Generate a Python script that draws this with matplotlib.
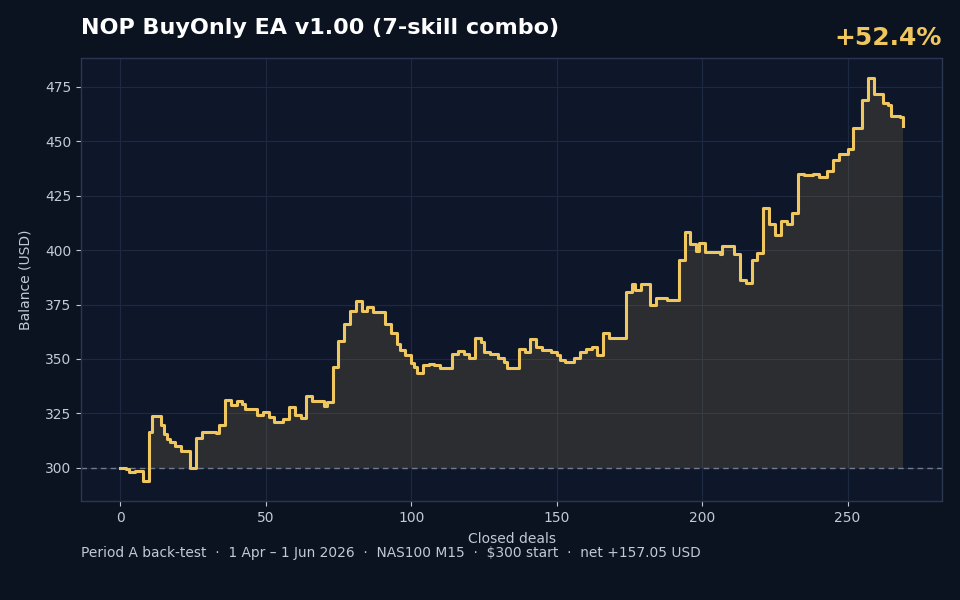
import numpy as np
import matplotlib
matplotlib.use("Agg")
import matplotlib.pyplot as plt

# Change points: deal index where balance takes a new value
deals = [0, 2, 3, 5, 8, 10, 11, 14, 15, 16, 17, 19, 21, 24, 26, 28, 33, 34, 36, 38,
         40, 42, 43, 47, 49, 51, 53, 56, 58, 60, 62, 64, 66, 70, 71, 73, 75, 77, 79, 81,
         83, 85, 87, 91, 93, 95, 96, 98, 100, 101, 102, 104, 106, 108, 110, 114, 116, 118, 120, 122,
         124, 125, 127, 130, 132, 133, 137, 139, 141, 143, 145, 148, 150, 151, 153, 156, 158, 160, 162, 164,
         166, 168, 174, 176, 177, 179, 182, 184, 188, 192, 194, 196, 198, 199, 201, 206, 207, 211, 213, 215,
         217, 219, 221, 223, 225, 227, 229, 231, 233, 235, 238, 240, 243, 245, 247, 250, 252, 255, 257, 259,
         262, 264, 265, 268, 269]
balance = [300.0, 299.3, 298.2, 298.7, 294.0, 316.3, 323.6, 319.7, 315.3, 313.2, 311.7, 310.1, 307.8, 299.7, 313.5, 316.3, 315.8, 319.8, 331.2, 328.9,
           330.9, 329.3, 327.0, 324.3, 325.5, 323.2, 320.9, 322.4, 327.8, 324.4, 322.9, 333.2, 330.9, 328.6, 330.1, 346.5, 358.2, 366.2, 372.0, 376.6,
           372.0, 373.8, 371.5, 366.2, 361.9, 357.0, 353.9, 351.6, 348.3, 346.2, 343.4, 347.0, 347.8, 347.0, 345.7, 352.4, 353.6, 352.4, 350.5, 359.7,
           357.7, 353.1, 352.4, 350.5, 348.5, 345.7, 354.7, 353.1, 359.3, 355.4, 354.2, 353.4, 352.0, 349.3, 348.5, 350.5, 353.4, 354.7, 355.4, 351.6,
           361.9, 359.7, 380.8, 384.6, 381.5, 384.6, 374.6, 378.2, 377.2, 395.3, 408.4, 403.0, 399.5, 403.3, 399.2, 398.0, 401.8, 398.0, 386.5, 384.9,
           395.3, 398.7, 419.2, 412.2, 406.9, 413.5, 411.9, 417.1, 435.0, 434.5, 435.0, 433.7, 436.5, 441.4, 444.0, 446.3, 456.3, 469.0, 479.0, 471.8,
           467.8, 466.7, 461.7, 461.1, 457.05]

start_balance = 300.0
x_ticks = [0, 50, 100, 150, 200, 250]
y_ticks = [300, 325, 350, 375, 400, 425, 450, 475]

title = "NOP BuyOnly EA v1.00 (7-skill combo)"
gain_label = "+52.4%"
footer = ("Period A back-test  \u00b7  1 Apr \u2013 1 Jun 2026  \u00b7  NAS100 M15  \u00b7  "
          "$300 start  \u00b7  net +157.05 USD")

FIG_BG = "#0b1220"
AX_BG = "#0e172a"
GOLD = "#f0c75e"
GRID = "#1c2940"
SPINE = "#2a3750"
TXT = "#c3cad6"

fig = plt.figure(figsize=(9.6, 6.0), dpi=100, facecolor=FIG_BG)
ax = fig.add_axes([0.0844, 0.165, 0.8969, 0.7383])
ax.set_facecolor(AX_BG)

x = np.array(deals, dtype=float)
y = np.array(balance)

ax.fill_between(x, np.maximum(y, start_balance), start_balance, step="post",
                color=GOLD, alpha=0.13, linewidth=0)
ax.plot(x, y, drawstyle="steps-post", color=GOLD, linewidth=2.2, zorder=3)
ax.axhline(start_balance, color="#8a919e", linestyle=(0, (4, 3)), linewidth=1.0,
           alpha=0.8, zorder=2)

ax.set_xticks(x_ticks)
ax.set_yticks(y_ticks)
ax.grid(True, color=GRID, linewidth=0.8)
ax.set_axisbelow(True)
for s in ax.spines.values():
    s.set_color(SPINE)
    s.set_linewidth(1.0)
ax.tick_params(colors=TXT, labelsize=10, length=3.5, width=0.8)
for t in ax.get_xticklines() + ax.get_yticklines():
    t.set_color("#d8dde6")

ax.set_xlabel("Closed deals", color=TXT, fontsize=10, labelpad=5)
ax.set_ylabel("Balance (USD)", color=TXT, fontsize=10, labelpad=9)

fig.text(0.0844, 0.953, title, color="white", fontsize=16, fontweight="bold",
         ha="left", va="center")
fig.text(0.981, 0.937, gain_label, color=GOLD, fontsize=18, fontweight="bold",
         ha="right", va="center")
fig.text(0.0844, 0.078, footer, color=TXT, fontsize=9.95, ha="left", va="center")

fig.savefig("out.png", dpi=100, facecolor=FIG_BG)
